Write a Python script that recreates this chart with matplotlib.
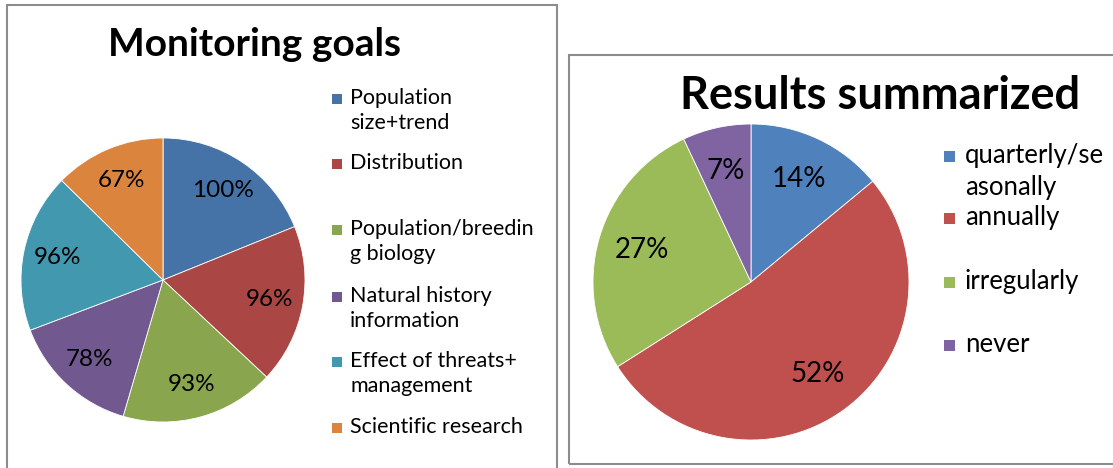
import matplotlib
matplotlib.use("Agg")
import matplotlib.pyplot as plt
from matplotlib.patches import Rectangle
import numpy as np

W, H = 1113, 468

# Monitoring goals
goal_labels = [
    "Population\nsize+trend",
    "Distribution",
    "Population/breedin\ng biology",
    "Natural history\ninformation",
    "Effect of threats+\nmanagement",
    "Scientific research",
]
goal_values = [100, 96, 93, 78, 96, 67]
goal_colors = ["#4572A7", "#AA4643", "#89A54E", "#71588F", "#4198AF", "#DB843D"]

# Results summarized
result_labels = ["quarterly/se\nasonally", "annually", "irregularly", "never"]
result_values = [14, 52, 27, 7]
result_colors = ["#4F81BD", "#C0504D", "#9BBB59", "#8064A2"]

FONT = "Lato"
plt.rcParams["font.family"] = [FONT, "DejaVu Sans"]

fig = plt.figure(figsize=(W / 100, H / 100), dpi=100)
fig.patch.set_facecolor("white")


def fx(x):
    return x / W


def fy(y):
    return 1 - y / H


def pie_axes(cx, cy, r):
    return fig.add_axes([fx(cx - r), fy(cy + r), 2 * r / W, 2 * r / H])


def draw_pie(ax, values, colors, dist, fs):
    wedges, _ = ax.pie(values, colors=colors, startangle=90, counterclock=False,
                       radius=1.0, wedgeprops=dict(linewidth=0.6, edgecolor="white"))
    ax.set_xlim(-1, 1)
    ax.set_ylim(-1, 1)
    ax.set_aspect("auto")
    for w, v in zip(wedges, values):
        th = np.deg2rad((w.theta1 + w.theta2) / 2)
        ax.text(dist * np.cos(th), dist * np.sin(th), f"{v}%", ha="center",
                va="center", fontsize=fs, color="black")


def draw_legend(x, ys, labels, colors, fs, box=10, gap=8, ls=1.0):
    px = fs * 100 / 72
    for y, lab, c in zip(ys, labels, colors):
        fig.patches.append(Rectangle((fx(x), fy(y + box / 2)), box / W, box / H,
                                     transform=fig.transFigure, facecolor=c,
                                     edgecolor="none"))
        fig.text(fx(x + box + gap), fy(y - 0.52 * px), lab, ha="left", va="top",
                 fontsize=fs, linespacing=ls, transform=fig.transFigure)


# Panel frames
frame_kw = dict(transform=fig.transFigure, facecolor="none", edgecolor="#8C8C8C",
                linewidth=1.5)
fig.patches.append(Rectangle((fx(7), fy(475)), (557 - 7) / W, (475 - 5) / H, **frame_kw))
fig.patches.append(Rectangle((fx(569), fy(464)), (1120 - 569) / W, (464 - 55) / H, **frame_kw))

# Left panel
fig.text(fx(254), fy(44), "Monitoring goals", ha="center", va="center",
         fontsize=28, fontweight="bold")
ax1 = pie_axes(163, 280, 142)
draw_pie(ax1, goal_values, goal_colors, 0.76, 17.5)
draw_legend(332, [99, 164, 230, 297, 362, 428], goal_labels, goal_colors, 15.5,
            ls=1.35)

# Right panel
fig.text(fx(880), fy(96), "Results summarized", ha="center", va="center",
         fontsize=32.5, fontweight="bold")
ax2 = pie_axes(751, 282, 158)
draw_pie(ax2, result_values, result_colors, 0.72, 20)
draw_legend(944, [156, 218, 282, 345], result_labels, result_colors, 18.5,
            box=11, gap=10, ls=1.35)

fig.savefig("out.png", dpi=100, facecolor="white")
